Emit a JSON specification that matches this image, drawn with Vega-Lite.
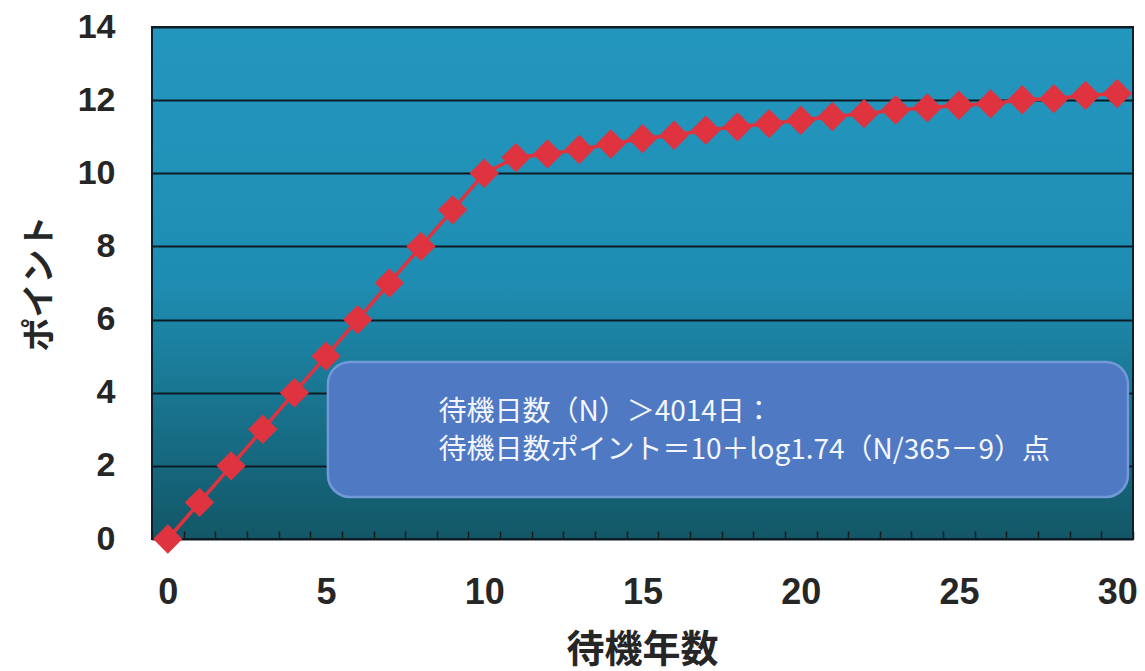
{
  "$schema": "https://vega.github.io/schema/vega-lite/v6.json",
  "width": 981,
  "height": 512,
  "autosize": {"type": "none"},
  "padding": {"left": 152, "top": 27, "right": 12, "bottom": 132},
  "background": "white",
  "view": {
    "fill": {
      "gradient": "linear", "x1": 0, "y1": 0, "x2": 0, "y2": 1,
      "stops": [
        {"offset": 0, "color": "#2497bf"},
        {"offset": 0.5, "color": "#1f8db2"},
        {"offset": 1, "color": "#125767"}
      ]
    },
    "stroke": "#10202a",
    "strokeWidth": 2
  },
  "data": {
    "values": [
      {"year": 0, "point": 0}, {"year": 1, "point": 1}, {"year": 2, "point": 2},
      {"year": 3, "point": 3}, {"year": 4, "point": 4}, {"year": 5, "point": 5},
      {"year": 6, "point": 6}, {"year": 7, "point": 7}, {"year": 8, "point": 8},
      {"year": 9, "point": 9}, {"year": 10, "point": 10}, {"year": 11, "point": 10.43},
      {"year": 12, "point": 10.53}, {"year": 13, "point": 10.65}, {"year": 14, "point": 10.8},
      {"year": 15, "point": 10.95}, {"year": 16, "point": 11.04}, {"year": 17, "point": 11.18},
      {"year": 18, "point": 11.27}, {"year": 19, "point": 11.36}, {"year": 20, "point": 11.45},
      {"year": 21, "point": 11.55}, {"year": 22, "point": 11.63}, {"year": 23, "point": 11.73},
      {"year": 24, "point": 11.79}, {"year": 25, "point": 11.86}, {"year": 26, "point": 11.9},
      {"year": 27, "point": 12.01}, {"year": 28, "point": 12.04}, {"year": 29, "point": 12.13},
      {"year": 30, "point": 12.18}
    ]
  },
  "resolve": {"axis": {"x": "independent"}},
  "layer": [
    {
      "mark": {"type": "line", "color": "#df3340", "strokeWidth": 3.5},
      "encoding": {
        "x": {
          "field": "year", "type": "quantitative",
          "scale": {"domain": [-0.5, 30.5], "nice": false, "zero": false},
          "axis": {
            "values": [0, 5, 10, 15, 20, 25, 30],
            "labelOverlap": false,
            "labelFlush": false,
            "ticks": false,
            "labelPadding": 36,
            "labelFont": "Liberation Sans",
            "labelFontWeight": "bold",
            "labelFontSize": 36,
            "labelColor": "#262626",
            "domain": false,
            "grid": false,
            "title": "待機年数",
            "titleFont": "Noto Sans CJK JP",
            "titleFontSize": 38,
            "titleFontWeight": "bold",
            "titleColor": "#262626",
            "titleX": 490,
            "titleY": 111,
            "titleAlign": "center",
            "titleBaseline": "middle"
          }
        },
        "y": {
          "field": "point", "type": "quantitative",
          "scale": {"domain": [0, 14], "nice": false},
          "axis": {
            "values": [0, 2, 4, 6, 8, 10, 12, 14],
            "grid": true,
            "gridColor": "#0d1c24",
            "gridWidth": 2,
            "ticks": false,
            "domain": false,
            "labelFlush": false,
            "labelPadding": 37,
            "labelFont": "Liberation Sans",
            "labelFontWeight": "bold",
            "labelFontSize": 34,
            "labelColor": "#262626",
            "title": "ポイント",
            "titleFont": "Noto Sans CJK JP",
            "titleFontSize": 34,
            "titleFontWeight": "bold",
            "titleColor": "#262626",
            "titleAngle": -90,
            "titleX": -112,
            "titleY": 256,
            "titleAlign": "center",
            "titleBaseline": "middle"
          }
        }
      }
    },
    {
      "mark": {"type": "point", "shape": "diamond", "filled": true, "size": 860, "color": "#df3340", "opacity": 1},
      "encoding": {
        "x": {
          "field": "year", "type": "quantitative",
          "axis": {
            "orient": "top",
            "offset": -512,
            "values": [-0.5, 0.5, 1.5, 2.5, 3.5, 4.5, 5.5, 6.5, 7.5, 8.5, 9.5, 10.5, 11.5, 12.5, 13.5, 14.5, 15.5, 16.5, 17.5, 18.5, 19.5, 20.5, 21.5, 22.5, 23.5, 24.5, 25.5, 26.5, 27.5, 28.5, 29.5, 30.5],
            "labels": false,
            "ticks": true,
            "tickSize": 8,
            "tickColor": "#1a1a1a",
            "tickWidth": 1.5,
            "domain": false,
            "grid": false,
            "title": null
          }
        },
        "y": {"field": "point", "type": "quantitative"}
      }
    },
    {
      "data": {"values": [{}]},
      "mark": {"type": "rect", "fill": "#4f79c2", "stroke": "#7298d8", "strokeWidth": 2.5, "cornerRadius": 22},
      "encoding": {
        "x": {"datum": 5.06, "type": "quantitative", "axis": null},
        "x2": {"datum": 30.34},
        "y": {"datum": 4.84, "type": "quantitative"},
        "y2": {"datum": 1.15}
      }
    },
    {
      "data": {"values": [{}]},
      "mark": {
        "type": "text", "align": "left", "baseline": "middle",
        "font": "Noto Sans CJK JP", "fontSize": 28, "color": "#f4f6ff", "lineHeight": 38,
        "text": ["待機日数（N）＞4014日：", "待機日数ポイント＝10＋log1.74（N/365－9）点"]
      },
      "encoding": {
        "x": {"datum": 8.55, "type": "quantitative", "axis": null},
        "y": {"datum": 3.45, "type": "quantitative"}
      }
    }
  ]
}
